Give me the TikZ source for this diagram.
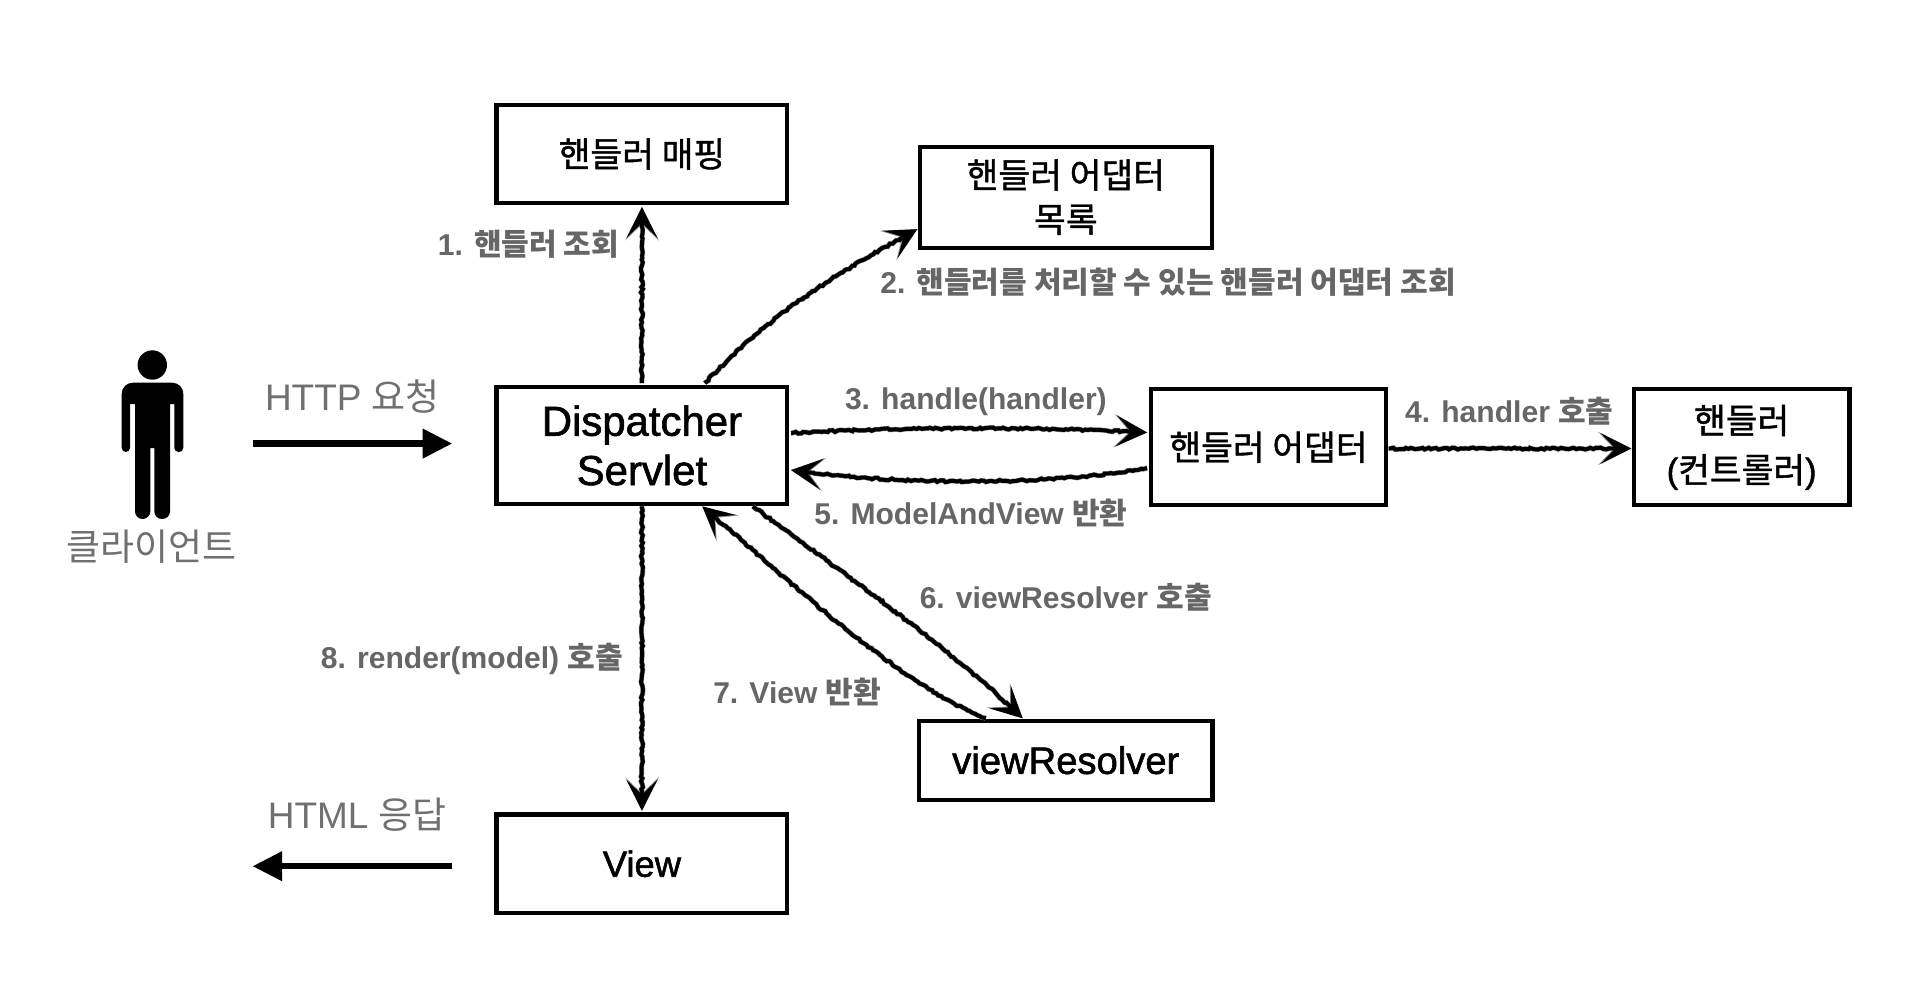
\documentclass[tikz,border=0pt]{standalone}
\usepackage{fontspec}
\setmainfont{Liberation Sans}
\newfontfamily\krfont{Noto Sans CJK KR}
\newfontfamily\krmed{Noto Sans CJK KR}[FakeBold=1.2]
\newfontfamily\latmed{Liberation Sans}[FakeBold=1.5]
\newcommand\ko[1]{{\krfont #1}}
\newcommand\km[1]{{\krmed #1}}
\usetikzlibrary{arrows.meta,decorations.pathmorphing,calc}
\definecolor{lab}{HTML}{666666}
\definecolor{client}{HTML}{707070}
\tikzset{
  boxnode/.style={draw=black,line width=3.4pt,fill=white,align=center,inner sep=0pt,outer sep=0pt,text=black},
  steplabel/.style={text=lab,font=\fontsize{24.4}{28}\selectfont\bfseries,inner sep=0pt},
  clientlabel/.style={text=client,font=\fontsize{30}{34}\selectfont,inner sep=0pt},
  roughline/.style={line width=3.2pt,black,decorate,
    decoration={random steps,segment length=2.2pt,amplitude=0.8pt,post=lineto,post length=16pt,pre=lineto,pre length=1pt},
    preaction={draw,line width=4pt,black!45,-{Stealth[length=27pt,width=27pt,inset=13pt]}},
    -{Stealth[length=25pt,width=25pt,inset=12pt]}},
  fatarrow/.style={line width=5pt,black,-{Triangle[length=24pt,width=23pt]}}
}
\begin{document}
\begin{tikzpicture}[x=1pt,y=-1pt]
\pgfmathsetseed{7}
\fill[white] (0,0) rectangle (1568,802);
\useasboundingbox (0,0) rectangle (1568,802);

% boxes
\node[boxnode,minimum width=236pt,minimum height=80pt,font=\fontsize{28}{36}\selectfont] (mapping) at (521,125) {\km{핸들러 매핑}};
\node[boxnode,minimum width=237pt,minimum height=82pt,font=\fontsize{28}{36}\selectfont] (list) at (865,160) {\km{핸들러 어댑터}\\\km{목록}};
\node[boxnode,minimum width=236pt,minimum height=95pt,font=\fontsize{34}{40}\latmed] (disp) at (521,361.5) {Dispatcher\\Servlet};
\node[boxnode,minimum width=191pt,minimum height=94pt,font=\fontsize{28}{36}\selectfont] (adapter) at (1029.5,363) {\km{핸들러 어댑터}};
\node[boxnode,minimum width=175pt,minimum height=94pt,font=\fontsize{28}{40}\selectfont] (handler) at (1413.5,363) {\km{핸들러}\\{\latmed(}\km{컨트롤러}{\latmed)}};
\node[boxnode,minimum width=238pt,minimum height=64pt,font=\fontsize{31}{36}\latmed] (resolver) at (865,617) {viewResolver};
\node[boxnode,minimum width=236pt,minimum height=80pt,font=\fontsize{29.5}{36}\latmed] (view) at (521,701) {View};

% person
\begin{scope}[x=0.8116pt,y=-0.8116pt]
\fill[black] (152.3,365) circle[radius=14.7];
\fill[black]
  [rounded corners=9pt] (121.7,382.7) -- (183.3,382.7)
  [rounded corners=3.4pt] -- (183.3,452) -- (174.3,452)
  [sharp corners] -- (174.3,404) -- (170,404)
  [rounded corners=6.2pt] -- (170,519) -- (154.3,519)
  [sharp corners] -- (154.3,448) -- (150.3,448)
  [rounded corners=6.2pt] -- (150.3,519) -- (135,519)
  [sharp corners] -- (135,404) -- (130,404)
  [rounded corners=3.4pt] -- (130,452) -- (121.7,452)
  [rounded corners=9pt] -- cycle;
\end{scope}
\node[clientlabel] (clientname) at (123,444) {\ko{클라이언트}};

% free ends
\coordinate (reqstart) at (205,360);
\coordinate (respend) at (205,703);

% connectors
\draw[fatarrow] (reqstart) -- ($(reqstart -| disp.west)+(-36,0)$);
\draw[roughline] ($(disp.north)+(0,-3)$) -- ($(mapping.south)+(0,3)$);
\draw[roughline] ($(disp.north)+(51,-3)$) .. controls (630,250) and (680,222) .. ($(list.west)+(-2,26)$);
\draw[roughline] ($(disp.east)+(3,-10)$) .. controls (720,347) and (840,346) .. ($(adapter.west)+(-3,-12)$);
\draw[roughline] ($(adapter.west)+(-3,17)$) .. controls (850,394) and (730,394) .. ($(disp.east)+(3,20)$);
\draw[roughline] ($(adapter.east)+(2,1)$) -- ($(handler.west)+(-2,1)$);
\draw[roughline] ($(disp.south)+(90,2)$) .. controls (680,462) and (770,525) .. ($(resolver.north)+(-35,-2)$);
\draw[roughline] ($(resolver.north)+(-65,-2)$) .. controls (730,555) and (650,480) .. ($(disp.south)+(49,2)$);
\draw[roughline] ($(disp.south)+(0,2)$) -- ($(view.north)+(0,-3)$);
\draw[fatarrow] ($(view.west |- respend)+(-36,0)$) -- (respend);

% labels
\node[steplabel] (l1) at (429,198) {1. \ko{핸들러 조회}};
\node[steplabel] (l2) at (948,229) {2. \ko{핸들러를 처리할 수 있는 핸들러 어댑터 조회}};
\node[steplabel] (l3) at (792,326) {3. handle(handler)};
\node[steplabel] (l4) at (1225,334) {4. handler \ko{호출}};
\node[steplabel] (l5) at (788,416) {5. ModelAndView \ko{반환}};
\node[steplabel] (l6) at (865,485) {6. viewResolver \ko{호출}};
\node[steplabel] (l7) at (647,562) {7. View \ko{반환}};
\node[steplabel] (l8) at (383,535) {8. render(model) \ko{호출}};
\node[clientlabel] (req) at (286,322) {HTTP \ko{요청}};
\node[clientlabel] (res) at (290,661) {HTML \ko{응답}};
\end{tikzpicture}
\end{document}
